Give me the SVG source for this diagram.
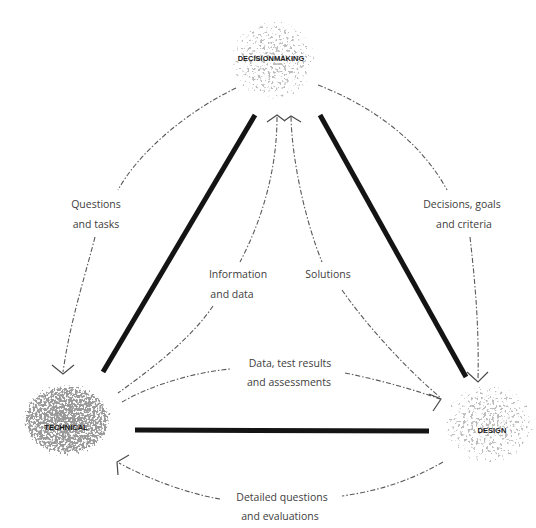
<svg xmlns="http://www.w3.org/2000/svg" width="536" height="528" viewBox="0 0 536 528">
  <style>
    .bar { stroke: #141414; stroke-width: 5; stroke-linecap: butt; fill: none; }
    .flow { stroke: #5a5a5a; stroke-width: 1.1; fill: none; stroke-dasharray: 5 2 1.5 2; }
    .head { stroke: #4a4a4a; stroke-width: 1.2; fill: none; stroke-linejoin: miter; }
    .lbl { font-family: "Open Sans", "Liberation Sans", sans-serif; font-size: 10.5px; fill: #404040; text-anchor: middle; }
    .node-lbl { font-family: "Liberation Sans", Arial, sans-serif; font-size: 7.5px; font-weight: bold; fill: #1a1a1a; text-anchor: middle; }
  </style>
  <defs>
    <radialGradient id="fade">
      <stop offset="0" stop-color="#000" stop-opacity="1"/>
      <stop offset="0.7" stop-color="#000" stop-opacity="0.92"/>
      <stop offset="1" stop-color="#000" stop-opacity="0"/>
    </radialGradient>
    <radialGradient id="fadeSoft">
      <stop offset="0" stop-color="#000" stop-opacity="1"/>
      <stop offset="0.55" stop-color="#000" stop-opacity="0.96"/>
      <stop offset="0.85" stop-color="#000" stop-opacity="0.86"/>
      <stop offset="1" stop-color="#000" stop-opacity="0"/>
    </radialGradient>
    <!-- stippled cloud: noise thresholded against the fading disc -->
    <filter id="stippleDense" x="-10%" y="-10%" width="120%" height="120%">
      <feTurbulence type="fractalNoise" baseFrequency="0.45" numOctaves="2" seed="4" result="n"/>
      <feComposite in="SourceAlpha" in2="n" operator="arithmetic" k2="10" k3="-10" k4="-3.5" result="d"/>
      <feColorMatrix in="d" type="matrix" values="0 0 0 0 0.32  0 0 0 0 0.32  0 0 0 0 0.32  0 0 0 1 0"/>
    </filter>
    <filter id="stippleSparse" x="-10%" y="-10%" width="120%" height="120%">
      <feTurbulence type="fractalNoise" baseFrequency="0.38" numOctaves="2" seed="11" result="n"/>
      <feComposite in="SourceAlpha" in2="n" operator="arithmetic" k2="10" k3="-10" k4="-5.25" result="d"/>
      <feColorMatrix in="d" type="matrix" values="0 0 0 0 0.5  0 0 0 0 0.5  0 0 0 0 0.5  0 0 0 1 0"/>
    </filter>
  </defs>

  <rect width="536" height="528" fill="#ffffff"/>

  <!-- heavy links between the three parties -->
  <g id="links">
    <line class="bar" x1="255" y1="115" x2="103" y2="372"/>
    <line class="bar" x1="320" y1="115" x2="466" y2="377"/>
    <line class="bar" x1="135" y1="430" x2="429" y2="431"/>
  </g>

  <!-- dashed information flows -->
  <g id="connectors">
    <!-- questions and tasks -->
    <path class="flow" d="M 236 88 C 190 110 140 150 118 190"/>
    <path class="flow" d="M 95 237 C 84 280 70 322 63 372"/>
    <polyline class="head" points="52,365 63,374 74,365"/>
    <!-- decisions, goals and criteria -->
    <path class="flow" d="M 318 85 C 370 105 420 140 447 190"/>
    <path class="flow" d="M 470 237 C 476 290 479 330 478 380"/>
    <polyline class="head" points="467,372 478,382 488,372"/>
    <!-- information and data -->
    <path class="flow" d="M 277 117 C 277 170 262 220 240 262"/>
    <path class="flow" d="M 213 306 C 190 340 150 370 118 393"/>
    <polyline class="head" points="267,122 277,115 285,121"/>
    <!-- solutions -->
    <path class="flow" d="M 291 117 C 292 160 305 220 322 262"/>
    <path class="flow" d="M 342 290 C 370 330 410 372 441 398"/>
    <polyline class="head" points="284,121 291,116 301,122"/>
    <!-- data, test results and assessments -->
    <path class="flow" d="M 122 402 C 150 386 190 373 230 369"/>
    <path class="flow" d="M 345 373 C 380 380 415 390 440 399"/>
    <polyline class="head" points="429,394 441,399 433,411"/>
    <!-- detailed questions and evaluations -->
    <path class="flow" d="M 443 462 C 415 478 385 490 342 496"/>
    <path class="flow" d="M 220 499 C 190 494 150 480 119 463"/>
    <polyline class="head" points="129,455 117,462 118,475"/>
  </g>

  <g id="flow-labels">
    <text class="lbl" x="96" y="208">Questions</text>
    <text class="lbl" x="96" y="228">and tasks</text>
    <text class="lbl" x="462" y="208">Decisions, goals</text>
    <text class="lbl" x="464" y="228">and criteria</text>
    <text class="lbl" x="238" y="278">Information</text>
    <text class="lbl" x="232" y="298">and data</text>
    <text class="lbl" x="328" y="278">Solutions</text>
    <text class="lbl" x="290" y="367">Data, test results</text>
    <text class="lbl" x="289" y="386">and assessments</text>
    <text class="lbl" x="282" y="501">Detailed questions</text>
    <text class="lbl" x="280" y="520">and evaluations</text>
  </g>

  <g id="decisionmaking">
    <ellipse cx="273" cy="60" rx="48" ry="45" fill="url(#fadeSoft)" filter="url(#stippleSparse)"/>
    <text class="node-lbl" x="271" y="61">DECISIONMAKING</text>
  </g>

  <g id="technical">
    <ellipse cx="67" cy="420" rx="56" ry="45" fill="url(#fade)" filter="url(#stippleDense)"/>
    <text class="node-lbl" x="66" y="430">TECHNICAL</text>
  </g>

  <g id="design">
    <ellipse cx="490" cy="424" rx="52" ry="44" fill="url(#fadeSoft)" filter="url(#stippleSparse)"/>
    <text class="node-lbl" x="492" y="433">DESIGN</text>
  </g>
</svg>
